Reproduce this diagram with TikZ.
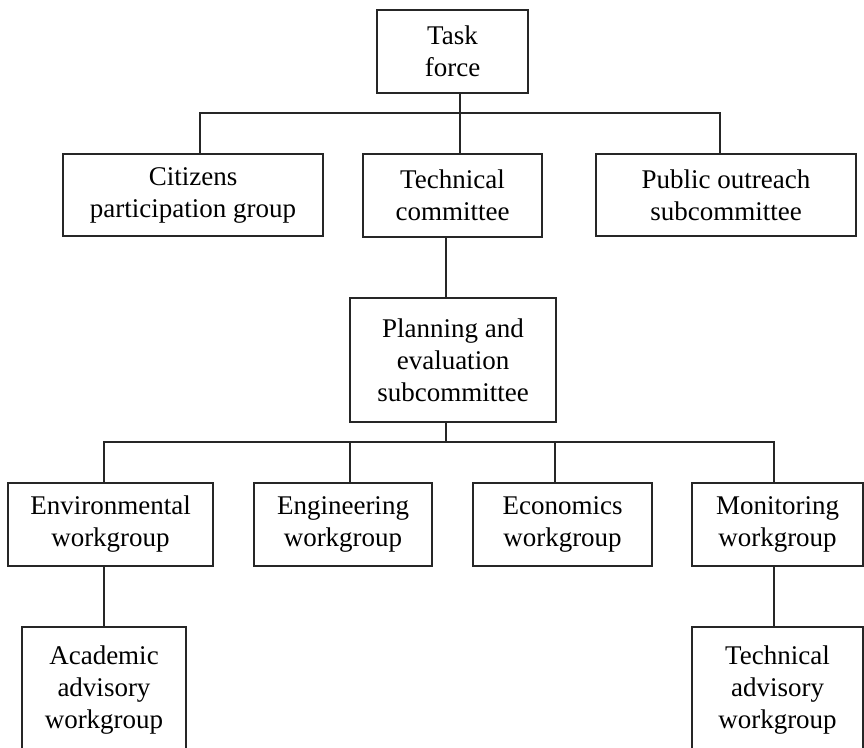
\documentclass[tikz,border=0pt]{standalone}
\usepackage{fontspec}
\setmainfont{Liberation Serif}
\begin{document}
\begin{tikzpicture}[x=1pt,y=-1pt,
  unit/.style={draw=black!85, line width=1.2pt, rectangle, inner sep=0pt,
    align=center, font=\fontsize{27}{32}\selectfont},
  link/.style={draw=black!85, line width=1.2pt}]
\path[use as bounding box, clip] (0,0) rectangle (864,747);

% top level
\node[unit, minimum width=151, minimum height=83] (task) at (452.5,51.5) {Task\\force};

% committees
\node[unit, minimum width=260, minimum height=82] (citizens) at (193,195) {Citizens\\participation group};
\node[unit, minimum width=179, minimum height=83] (tech) at (452.5,195.5) {Technical\\committee};
\node[unit, minimum width=260, minimum height=82] (public) at (726,195) {Public outreach\\subcommittee};

% planning
\node[unit, minimum width=206, minimum height=124] (plan) at (453,360) {Planning and\\evaluation\\subcommittee};

% workgroups
\node[unit, minimum width=205, minimum height=83] (env) at (110.5,524.5) {Environmental\\workgroup};
\node[unit, minimum width=178, minimum height=83] (eng) at (343,524.5) {Engineering\\workgroup};
\node[unit, minimum width=179, minimum height=83] (econ) at (562.5,524.5) {Economics\\workgroup};
\node[unit, minimum width=171, minimum height=83] (mon) at (777.5,524.5) {Monitoring\\workgroup};

% advisory workgroups
\node[unit, minimum width=164, minimum height=126] (acad) at (104,690) {Academic\\advisory\\workgroup};
\node[unit, minimum width=171, minimum height=126] (techadv) at (777.5,690) {Technical\\advisory\\workgroup};

% bus coordinates
\coordinate (busT) at (460,113);
\coordinate (busB) at (446,442);

% connectors, upper tree
\draw[link] ([xshift=7.5]task.south) -- ([xshift=7.5]tech.north);
\draw[link] ([xshift=7]citizens.north) |- (busT) -| ([xshift=-6]public.north);
\draw[link] ([xshift=-6.5]tech.south) -- ([xshift=-7]plan.north);

% connectors, lower tree
\draw[link] ([xshift=-7]plan.south) -- (busB);
\draw[link] ([xshift=-6.5]env.north) |- (busB) -| ([xshift=-3.5]mon.north);
\draw[link] ([xshift=7]eng.north) -- ([xshift=7]eng.north |- busB);
\draw[link] ([xshift=-7.5]econ.north) -- ([xshift=-7.5]econ.north |- busB);
\draw[link] ([xshift=-6.5]env.south) -- (acad.north);
\draw[link] ([xshift=-3.5]mon.south) -- ([xshift=-3.5]techadv.north);
\end{tikzpicture}
\end{document}
